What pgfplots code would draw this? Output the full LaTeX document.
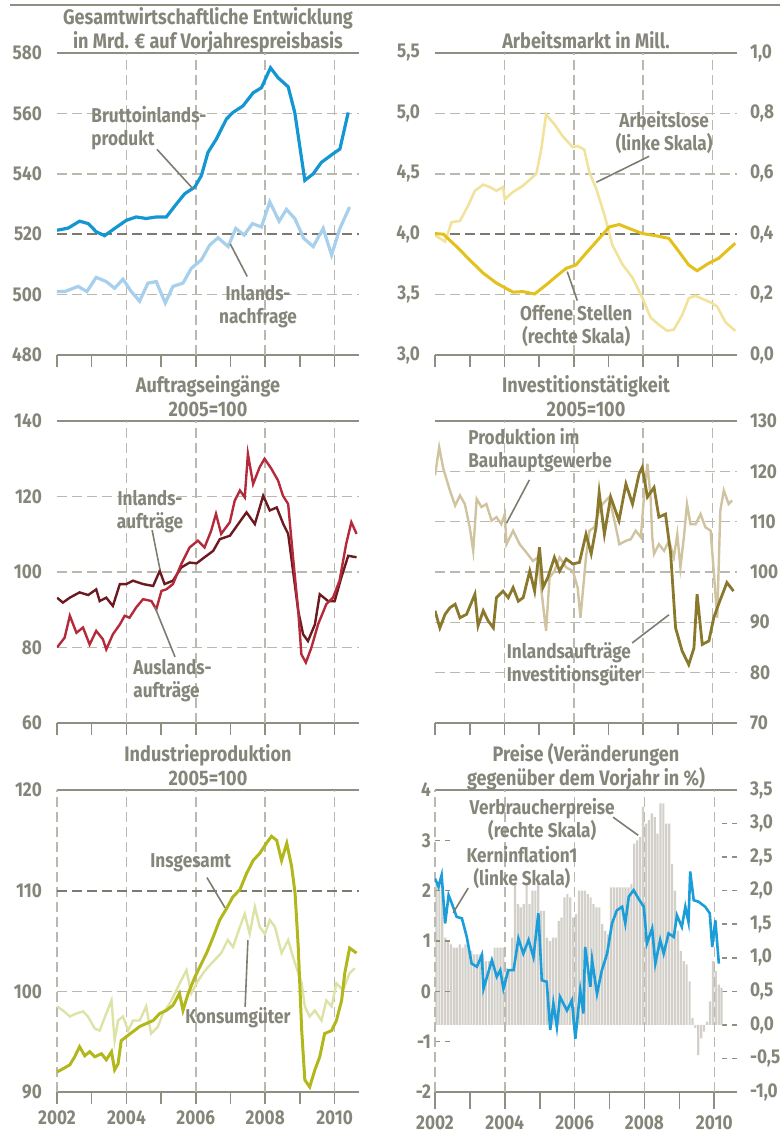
\documentclass[border=0pt]{standalone}
\usepackage{fontspec}
\setmainfont{Fira Sans}[FakeStretch=0.86]
\usepackage{pgfplots}
\pgfplotsset{compat=1.18}
\definecolor{txt}{HTML}{85857A}
\definecolor{ax}{HTML}{8E8E82}
\definecolor{grd}{HTML}{B9B9B0}
\definecolor{grdd}{HTML}{7A7A70}
\definecolor{lead}{HTML}{7D7D72}
\definecolor{bip}{HTML}{1496D2}
\definecolor{inl}{HTML}{A6D0EC}
\definecolor{alo}{HTML}{F2E39C}
\definecolor{ost}{HTML}{E3C11A}
\definecolor{ina}{HTML}{6C1A20}
\definecolor{aus}{HTML}{B52A3A}
\definecolor{bau}{HTML}{CFC3A0}
\definecolor{inv}{HTML}{8A782C}
\definecolor{ges}{HTML}{B2B71C}
\definecolor{kon}{HTML}{DDE3A6}
\definecolor{kern}{HTML}{1A9DD9}
\definecolor{cpi}{HTML}{D3D0C9}
\newcommand{\lbl}{\fontsize{10}{11.5}\selectfont\bfseries}
\newcommand{\ttl}{\fontsize{10.5}{12}\selectfont\bfseries}

\tikzset{
  lab/.style={font=\lbl, text=txt, align=center, inner sep=0pt},
  ld/.style={lead, line width=0.8pt},
}
\pgfplotsset{
  panel/.style={
    scale only axis, width=151pt, height=151pt,
    xmin=2002, xmax=2010.7,
    axis lines=box, separate axis lines,
    x axis line style={ax, line width=1pt},
    y axis line style={draw=none},
    xtick={2002,...,2010}, xticklabels={},
    xtick pos=left, tick align=outside,
    xtick style={ax, line width=0.8pt},
    major tick length=6pt,
    ytick style={draw=none},
    grid style={grd, line width=0.8pt, dash pattern=on 5pt off 2.5pt},
    tick label style={font=\lbl, text=txt},
    yticklabel style={xshift=2pt},
    every axis title/.style={at={(0.5,1)}, anchor=south, yshift=1pt,
      inner sep=1pt, text depth=0pt, align=center, font=\ttl, text=txt},
    extra x tick style={xmajorgrids=true, major tick length=0pt},
  },
  rlab/.style={yticklabel style={xshift=-5pt}},
  darkline/.style={extra y tick style={ymajorgrids=true, major tick length=0pt,
      grid style={grdd, line width=1pt, dash pattern=on 5pt off 2.5pt}}},
}

\begin{document}
\begin{tikzpicture}
\path[use as bounding box] (0,0) rectangle (390pt,566.5pt);
\draw[ax, line width=1pt] (5pt,564pt) -- (390pt,564pt);

% ---------- Gesamtwirtschaftliche Entwicklung
\begin{axis}[panel, darkline, at={(28.5pt,389pt)}, anchor=south west,
  ymin=480, ymax=580, ytick={480,500,...,580}, ymajorgrids,
  yticklabels={480,500,520,540,560,580},
  extra x ticks={2004,2006,2008,2010}, extra x tick labels={},
  extra y ticks={520}, extra y tick labels={},
  title={Gesamtwirtschaftliche Entwicklung\\in Mrd. € auf Vorjahrespreisbasis}]
\addplot[inl, line width=1.6pt] coordinates {
 (2002.0,501.0) (2002.22,501) (2002.61,502.7) (2002.86,501) (2003.13,505.7)
 (2003.42,504.3) (2003.66,502.1) (2003.9,505.1) (2004.14,501) (2004.38,497.8)
 (2004.62,503.8) (2004.86,504.3) (2005.12,497.2) (2005.34,502.7) (2005.63,503.8)
 (2005.87,508.7) (2006.16,511.5) (2006.4,516.4) (2006.64,518.8) (2006.93,515.9)
 (2007.15,521.9) (2007.39,519.7) (2007.63,523.5) (2007.89,522.4) (2008.13,530.7)
 (2008.4,524.3) (2008.61,528.2) (2008.85,525.2) (2009.11,518.6) (2009.38,515.9)
 (2009.67,521.9) (2009.91,513.1) (2010.15,521.9) (2010.43,529)};
\addplot[bip, line width=1.6pt] coordinates {
 (2002.0,521.3) (2002.32,522) (2002.65,524.3) (2002.9,523.5) (2003.13,520.8)
 (2003.37,519.5) (2003.66,521.9) (2004.0,524.6) (2004.28,525.7) (2004.57,525.2)
 (2004.86,525.7) (2005.15,525.7) (2005.44,530) (2005.68,533.4) (2005.97,535.6)
 (2006.16,539.4) (2006.35,547.1) (2006.59,551.5) (2006.88,558.1) (2007.07,560.3)
 (2007.36,562.5) (2007.65,566.8) (2007.89,568.5) (2008.15,575.1) (2008.37,571.8)
 (2008.66,568.8) (2008.85,560.3) (2009.14,537.8) (2009.38,540) (2009.62,543.8)
 (2009.95,546.6) (2010.15,548.2) (2010.39,560.3)};
\node[lab, anchor=west, align=left] at (axis cs:2002.98,555) {Bruttoinlands-\\produkt};
\draw[ld] (axis cs:2004.88,548.1) -- (axis cs:2005.92,535);
\node[lab] at (axis cs:2007.79,496) {Inlands-\\nachfrage};
\draw[ld] (axis cs:2007.48,506) -- (axis cs:2006.99,516.8);
\end{axis}

% ---------- Arbeitsmarkt
\begin{axis}[panel, darkline, at={(217.5pt,389pt)}, anchor=south west,
  ymin=3, ymax=5.5, ytick={3,3.5,...,5.5}, ymajorgrids, ytick pos=left,
  yticklabels={{3,0},{3,5},{4,0},{4,5},{5,0},{5,5}},
  extra x ticks={2004,2006,2008,2010}, extra x tick labels={},
  extra y ticks={4}, extra y tick labels={},
  title={Arbeitsmarkt in Mill.}]
\addplot[alo, line width=1.3pt] coordinates {
 (2002.0,3.99) (2002.29,3.94) (2002.48,4.10) (2002.72,4.11) (2002.96,4.24)
 (2003.15,4.36) (2003.39,4.41) (2003.58,4.39) (2003.77,4.36) (2003.96,4.39)
 (2004.01,4.29) (2004.25,4.35) (2004.53,4.40) (2004.92,4.50) (2005.06,4.70)
 (2005.2,4.99) (2005.44,4.91) (2005.68,4.81) (2005.97,4.72) (2006.11,4.73)
 (2006.3,4.70) (2006.45,4.51) (2006.64,4.38) (2006.88,4.16) (2007.11,3.91)
 (2007.4,3.75) (2007.69,3.64) (2007.98,3.47) (2008.21,3.31) (2008.45,3.25)
 (2008.69,3.20) (2008.88,3.21) (2009.12,3.33) (2009.31,3.47) (2009.5,3.49)
 (2009.74,3.46) (2009.98,3.43) (2010.13,3.40) (2010.37,3.27) (2010.65,3.20)};
\node[lab] at (axis cs:2008.6,4.84) {Arbeitslose\\(linke Skala)};
\draw[ld] (axis cs:2008.17,4.645) -- (axis cs:2006.65,4.43);
\node[lab] at (axis cs:2006.07,3.24) {Offene Stellen\\(rechte Skala)};
\draw[ld] (axis cs:2006.1,3.45) -- (axis cs:2005.81,3.69);
\end{axis}
\begin{axis}[panel, rlab, at={(217.5pt,389pt)}, anchor=south west,
  x axis line style={draw=none}, xtick=\empty,
  ymin=0, ymax=1, ytick={0,0.2,...,1}, ytick pos=right, yticklabel pos=right,
  yticklabels={{0,0},{0,2},{0,4},{0,6},{0,8},{1,0}}]
\addplot[ost, line width=1.5pt] coordinates {
 (2002.0,0.402) (2002.24,0.40) (2002.62,0.359) (2003.05,0.309) (2003.39,0.271)
 (2003.77,0.238) (2004.25,0.208) (2004.53,0.21) (2004.87,0.202) (2005.2,0.232)
 (2005.49,0.26) (2005.78,0.287) (2006.06,0.298) (2006.35,0.337) (2006.73,0.386)
 (2007.02,0.424) (2007.31,0.432) (2007.59,0.419) (2007.98,0.402) (2008.36,0.395)
 (2008.74,0.386) (2009.03,0.342) (2009.31,0.298) (2009.55,0.279) (2009.89,0.304)
 (2010.17,0.32) (2010.65,0.37)};
\end{axis}

% ---------- Auftragseingaenge
\begin{axis}[panel, at={(28.5pt,205pt)}, anchor=south west,
  ymin=60, ymax=140, ytick={60,80,...,140}, ymajorgrids,
  yticklabels={60,80,100,120,140},
  extra x ticks={2004,2006,2008,2010}, extra x tick labels={},
  title={Auftragseingänge\\2005=100}]
\addplot[ina, line width=1.2pt] coordinates {
 (2002.0,93.2) (2002.17,91.9) (2002.37,93.2) (2002.65,94.6) (2002.9,93.9)
 (2003.13,95.4) (2003.23,92.3) (2003.42,93.2) (2003.61,91.0) (2003.81,96.8)
 (2004.0,96.8) (2004.19,97.7) (2004.48,96.8) (2004.77,96.3) (2004.96,100.3)
 (2005.1,96.8) (2005.34,97.7) (2005.58,101.2) (2005.82,102.5) (2006.02,102.3)
 (2006.25,103.9) (2006.5,105.6) (2006.69,108.7) (2006.98,109.6) (2007.22,112.7)
 (2007.46,115.8) (2007.7,112.7) (2007.94,120.2) (2008.13,116.3) (2008.33,117.1)
 (2008.52,112.7) (2008.66,110.1) (2008.8,100.3) (2008.95,89.7) (2009.09,83.5)
 (2009.23,81.7) (2009.43,86.1) (2009.57,94.1) (2009.81,92.3) (2010.0,92.3)
 (2010.19,98.5) (2010.39,104.3) (2010.63,103.9)};
\addplot[aus, line width=1.2pt] coordinates {
 (2002.0,80) (2002.22,82.6) (2002.37,88.4) (2002.56,83.9) (2002.75,85.3)
 (2002.94,80.8) (2003.13,84.4) (2003.32,82.2) (2003.42,79.5) (2003.61,83.5)
 (2003.81,86.1) (2003.95,88.4) (2004.09,87.9) (2004.28,90.6) (2004.48,92.8)
 (2004.72,92.3) (2004.86,90.1) (2005.01,95.0) (2005.15,95.4) (2005.34,96.8)
 (2005.58,102.1) (2005.82,106.5) (2006.06,108.3) (2006.25,106.5) (2006.44,110.9)
 (2006.58,115.4) (2006.73,110.1) (2006.98,113.2) (2007.12,118.9) (2007.27,121.6)
 (2007.41,119.8) (2007.5,131.3) (2007.65,123.3) (2007.84,127.8) (2007.98,130.0)
 (2008.18,127.3) (2008.37,124.2) (2008.51,120.2) (2008.66,118.0) (2008.8,103.9)
 (2008.95,89.7) (2009.04,78.2) (2009.17,76.0) (2009.33,80) (2009.52,86.1)
 (2009.76,91.5) (2009.95,93.2) (2010.14,97.7) (2010.33,107.4) (2010.48,113.2)
 (2010.63,110.1)};
\node[lab] at (axis cs:2004.68,115.9) {Inlands-\\aufträge};
\draw[ld] (axis cs:2004.74,111.1) -- (axis cs:2004.97,100.5);
\node[lab, anchor=west, align=left] at (axis cs:2004.19,71.1) {Auslands-\\aufträge};
\draw[ld] (axis cs:2005.4,77.5) -- (axis cs:2004.82,90.7);
\end{axis}

% ---------- Investitionstaetigkeit
\begin{axis}[panel, rlab, at={(217.5pt,205pt)}, anchor=south west,
  ymin=70, ymax=130, ytick={70,80,...,130}, ymajorgrids,
  ytick pos=right, yticklabel pos=right,
  yticklabels={70,80,90,100,110,120,130},
  extra x ticks={2004,2006,2008,2010}, extra x tick labels={},
  title={Investitionstätigkeit\\2005=100}]
\addplot[bau, line width=1.2pt] coordinates {
 (2002.0,119.2) (2002.12,124.8) (2002.24,120.5) (2002.43,116.2) (2002.58,113.2)
 (2002.72,115.2) (2002.86,113.5) (2003.0,108.9) (2003.1,104.2) (2003.2,114.5)
 (2003.34,112.9) (2003.48,113.5) (2003.63,110.2) (2003.77,110.9) (2003.91,109.5)
 (2004.01,111.5) (2004.06,105.5) (2004.25,108.2) (2004.44,105.5) (2004.63,103.9)
 (2004.82,102.2) (2004.96,102.9) (2005.11,93.6) (2005.2,88.3) (2005.3,98.9)
 (2005.44,100.2) (2005.59,102.9) (2005.78,100.9) (2005.97,100.2) (2006.11,96.9)
 (2006.19,90.9) (2006.35,102.9) (2006.45,108.2) (2006.59,108.9) (2006.73,112.2)
 (2006.83,113.5) (2007.02,114.9) (2007.21,108.9) (2007.31,105.5) (2007.5,106.2)
 (2007.64,106.5) (2007.78,108.2) (2007.93,106.9) (2008.02,114.9) (2008.12,121.5)
 (2008.21,114.9) (2008.26,106.9) (2008.31,103.6) (2008.45,105.5) (2008.6,104.2)
 (2008.74,106.2) (2008.88,102.9) (2008.98,107.5) (2009.07,100.9) (2009.17,106.9)
 (2009.26,113.5) (2009.36,109.5) (2009.51,109.5) (2009.65,111.5) (2009.79,108.9)
 (2009.94,108.2) (2010.03,100.2) (2010.13,90.9) (2010.22,112.2) (2010.32,116.2)
 (2010.46,113.5) (2010.56,114.2)};
\addplot[inv, line width=1.4pt] coordinates {
 (2002.0,92.3) (2002.14,88.9) (2002.29,91.6) (2002.43,92.9) (2002.58,93.6)
 (2002.72,90.9) (2002.91,91.6) (2003.15,95.6) (2003.24,89.3) (2003.39,92.3)
 (2003.53,90.3) (2003.68,88.9) (2003.77,94.9) (2003.96,96.2) (2004.11,94.9)
 (2004.25,96.9) (2004.4,94.2) (2004.54,94.9) (2004.73,100.2) (2004.87,96.2)
 (2005.01,104.9) (2005.11,96.9) (2005.25,98.9) (2005.44,102.9) (2005.59,100.2)
 (2005.78,102.6) (2005.97,101.6) (2006.16,101.9) (2006.35,107.5) (2006.5,103.6)
 (2006.64,108.9) (2006.73,115.8) (2006.88,107.5) (2007.06,114.9) (2007.3,110.2)
 (2007.5,117.5) (2007.69,113.5) (2007.88,119.5) (2007.97,120.8) (2008.12,114.9)
 (2008.31,116.8) (2008.45,110.9) (2008.64,111.5) (2008.79,103.6) (2008.93,88.9)
 (2009.12,84.3) (2009.31,81.6) (2009.46,84.9) (2009.55,95.6) (2009.7,85.6)
 (2009.89,86.3) (2010.03,90.9) (2010.17,93.6) (2010.41,97.9) (2010.6,96.2)};
\node[lab, anchor=west, align=left] at (axis cs:2002.95,124.2) {Produktion im\\Bauhauptgewerbe};
\draw[ld] (axis cs:2004.72,118.3) -- (axis cs:2004.06,109.7);
\node[lab, anchor=west, align=left] at (axis cs:2004.06,81.7) {Inlandsaufträge\\Investitionsgüter};
\draw[ld] (axis cs:2007.68,85.9) -- (axis cs:2008.74,91.5);
\end{axis}

% ---------- Industrieproduktion
\begin{axis}[panel, darkline, at={(28.5pt,20.5pt)}, anchor=south west,
  ymin=90, ymax=120, ytick={90,100,110,120}, ymajorgrids,
  yticklabels={90,100,110,120},
  xticklabels={2002,,2004,,2006,,2008,,2010},
  extra x ticks={2002,2004,2006,2008,2010}, extra x tick labels={},
  extra y ticks={110}, extra y tick labels={},
  title={Industrieproduktion\\2005=100}]
\addplot[kon, line width=1.2pt] coordinates {
 (2002.0,98.5) (2002.17,98.1) (2002.37,97.5) (2002.56,97.8) (2002.75,98.0)
 (2002.89,97.5) (2003.09,96.3) (2003.23,96.1) (2003.42,97.8) (2003.57,99.1)
 (2003.66,95.1) (2003.76,97.1) (2003.9,97.5) (2004.05,96.1) (2004.19,97.1)
 (2004.38,97.1) (2004.57,98.5) (2004.71,95.8) (2004.91,96.5) (2005.05,97.8)
 (2005.25,98.8) (2005.44,100.1) (2005.58,101.1) (2005.73,102.1) (2005.87,99.8)
 (2006.02,100.8) (2006.21,101.8) (2006.35,102.4) (2006.54,103.1) (2006.73,103.8)
 (2006.92,105.1) (2007.07,104.4) (2007.27,106.4) (2007.41,107.7) (2007.55,105.7)
 (2007.7,108.4) (2007.84,106.4) (2007.99,105.7) (2008.13,107.1) (2008.28,106.4)
 (2008.47,103.8) (2008.66,105.1) (2008.8,103.4) (2008.95,101.8) (2009.05,100.8)
 (2009.14,98.5) (2009.28,97.5) (2009.43,98.1) (2009.62,97.1) (2009.76,99.1)
 (2009.91,98.5) (2010.05,100.8) (2010.24,100.1) (2010.43,101.8) (2010.58,102.3)};
\addplot[ges, line width=1.5pt] coordinates {
 (2002.0,92.0) (2002.17,92.3) (2002.37,92.7) (2002.51,93.5) (2002.65,94.5)
 (2002.8,93.6) (2002.94,94.0) (2003.09,93.5) (2003.28,93.8) (2003.42,93.2)
 (2003.57,94.0) (2003.66,92.2) (2003.76,92.8) (2003.85,95.1) (2004.0,95.5)
 (2004.19,96.0) (2004.38,96.5) (2004.57,96.8) (2004.77,97.1) (2004.96,97.8)
 (2005.15,98.1) (2005.34,98.6) (2005.53,99.8) (2005.63,98.1) (2005.78,99.8)
 (2005.97,101.4) (2006.11,102.4) (2006.31,103.8) (2006.5,105.4) (2006.69,107.1)
 (2006.88,108.2) (2007.07,109.4) (2007.27,110.1) (2007.46,111.7) (2007.65,113.0)
 (2007.84,113.7) (2008.03,114.7) (2008.18,115.4) (2008.33,115.0) (2008.47,113.0)
 (2008.62,114.7) (2008.76,112.4) (2008.86,109.7) (2008.95,104.4) (2009.05,96.1)
 (2009.14,91.2) (2009.28,90.5) (2009.43,92.2) (2009.57,93.5) (2009.71,95.8)
 (2009.91,96.1) (2010.05,97.1) (2010.2,99.1) (2010.29,101.8) (2010.43,104.3)
 (2010.63,103.8)};
\node[lab, anchor=west] at (axis cs:2004.68,112.75) {Insgesamt};
\draw[ld] (axis cs:2006.32,111.3) -- (axis cs:2006.84,108.3);
\node[lab, anchor=west] at (axis cs:2005.69,97.4) {Konsumgüter};
\draw[ld] (axis cs:2007.42,98.45) -- (axis cs:2007.5,105.1);
\end{axis}

% ---------- Preise
\begin{axis}[panel, at={(217.5pt,20.5pt)}, anchor=south west, xmax=2010.65,
  x axis line style={draw=none}, xtick=\empty,
  ymin=-1, ymax=3.5, ytick={-1,-0.5,...,3.5}, ytick pos=right, yticklabel pos=right,
  tick align=inside, major tick length=7.5pt,
  ytick style={draw=ax, line width=0.8pt, dash pattern=on 2.5pt off 2.5pt},
  yticklabel style={xshift=1pt},
  yticklabels={{-1,0},{-0,5},{0,0},{0,5},{1,0},{1,5},{2,0},{2,5},{3,0},{3,5}}]
\addplot[ybar, bar width=0.062, bar shift=0pt, fill=cpi, draw=none] coordinates {
 (2002.042,2.1) (2002.125,2.1) (2002.208,2.0) (2002.292,1.3) (2002.375,1.25) (2002.458,1.2)
 (2002.542,1.15) (2002.625,1.15) (2002.708,1.2) (2002.792,1.15) (2002.875,1.2) (2002.958,1.15)
 (2003.042,1.1) (2003.125,1.05) (2003.208,1.05) (2003.292,1.05) (2003.375,1.05) (2003.458,0.95)
 (2003.542,0.95) (2003.625,0.95) (2003.708,1.15) (2003.792,1.15) (2003.875,1.15) (2003.958,1.15)
 (2004.042,0.85) (2004.125,0.8) (2004.208,1.3) (2004.292,2.1) (2004.375,1.8) (2004.458,1.75)
 (2004.542,1.8) (2004.625,2.1) (2004.708,1.8) (2004.792,2.0) (2004.875,2.0) (2004.958,2.15)
 (2005.042,1.7) (2005.125,1.7) (2005.208,1.3) (2005.292,1.25) (2005.375,1.3) (2005.458,1.3)
 (2005.542,1.55) (2005.625,1.6) (2005.708,1.9) (2005.792,1.95) (2005.875,1.9) (2005.958,1.6)
 (2006.042,1.65) (2006.125,2.0) (2006.208,2.0) (2006.292,2.0) (2006.375,1.95) (2006.458,1.9)
 (2006.542,1.8) (2006.625,1.75) (2006.708,1.75) (2006.792,1.5) (2006.875,1.4) (2006.958,1.35)
 (2007.042,2.05) (2007.125,2.05) (2007.208,2.05) (2007.292,2.05) (2007.375,2.05) (2007.458,2.05)
 (2007.542,2.05) (2007.625,2.1) (2007.708,2.7) (2007.792,2.75) (2007.875,2.8) (2007.958,3.25)
 (2008.042,3.0) (2008.125,3.05) (2008.208,3.15) (2008.292,3.1) (2008.375,2.85) (2008.458,3.3)
 (2008.542,3.3) (2008.625,3.0) (2008.708,3.0) (2008.792,2.4) (2008.875,2.0) (2008.958,1.4)
 (2009.042,1.1) (2009.125,0.95) (2009.208,0.9) (2009.292,0.65) (2009.375,0.1) (2009.458,-0.05)
 (2009.542,-0.45) (2009.625,-0.2) (2009.708,-0.1) (2009.792,0.05) (2009.875,0.35) (2009.958,0.95)
 (2010.042,0.8) (2010.125,0.6) (2010.208,0.55)};
\end{axis}
\begin{axis}[panel, at={(217.5pt,20.5pt)}, anchor=south west, xmax=2010.65,
  ymin=-2, ymax=4, ytick={-2,-1,...,4}, ytick pos=left,
  tick align=inside, major tick length=8.5pt,
  xtick style={yshift=-8.5pt},
  xticklabel style={yshift=-8.5pt},
  yticklabel style={xshift=-0.5pt},
  ytick style={draw=ax, line width=0.8pt, dash pattern=on 2.5pt off 2.5pt},
  yticklabels={-2,-1,0,1,2,3,4},
  xticklabels={2002,,2004,,2006,,2008,,2010},
  extra x ticks={2002,2004,2006,2008,2010}, extra x tick labels={},
  title={Preise (Veränderungen\\gegenüber dem Vorjahr in \%)}]
\addplot[kern, line width=1.3pt] coordinates {
 (2002.0,2.24) (2002.1,2.08) (2002.19,2.31) (2002.29,1.35) (2002.39,1.91)
 (2002.48,1.75) (2002.62,1.48) (2002.77,1.45) (2002.91,1.08) (2003.05,0.55)
 (2003.2,0.49) (2003.34,0.72) (2003.39,0.05) (2003.49,0.29) (2003.63,0.62)
 (2003.77,0.29) (2003.87,0.42) (2003.96,0.05) (2004.1,0.42) (2004.25,0.42)
 (2004.39,1.05) (2004.53,0.75) (2004.68,1.02) (2004.82,0.68) (2004.96,1.55)
 (2005.06,0.22) (2005.2,0.19) (2005.3,-0.77) (2005.39,-0.24) (2005.49,-0.71)
 (2005.58,-0.11) (2005.78,-0.38) (2005.92,-0.18) (2006.02,-0.94) (2006.16,0.02)
 (2006.25,-0.44) (2006.3,0.88) (2006.45,0.09) (2006.5,0.62) (2006.64,-0.05)
 (2006.78,0.42) (2006.93,0.75) (2007.07,1.35) (2007.21,1.61) (2007.36,1.68)
 (2007.45,1.35) (2007.55,1.88) (2007.69,2.01) (2007.83,1.84) (2007.98,1.68)
 (2008.07,0.95) (2008.22,1.25) (2008.31,0.55) (2008.45,1.02) (2008.55,0.75)
 (2008.69,1.15) (2008.84,1.08) (2008.93,1.51) (2009.07,1.28) (2009.17,1.68)
 (2009.26,1.38) (2009.31,2.38) (2009.41,1.81) (2009.55,1.78) (2009.74,1.68)
 (2009.87,1.55) (2009.94,0.88) (2010.03,1.41) (2010.13,0.55)};
\node[lab] at (axis cs:2005.07,3.42) {Verbraucherpreise\\(rechte Skala)};
\draw[ld] (axis cs:2007.1,3.46) -- (axis cs:2007.82,3.1);
\node[lab] at (axis cs:2004.49,2.47) {Kerninflation1\\(linke Skala)};
\draw[ld] (axis cs:2002.95,2.05) -- (axis cs:2002.52,1.56);
\end{axis}
\end{tikzpicture}
\end{document}
